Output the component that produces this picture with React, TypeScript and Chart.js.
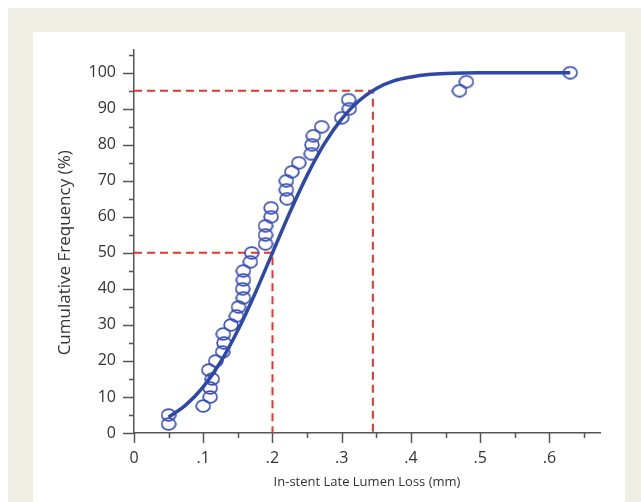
import React, { useEffect, useRef } from 'react';
import { Chart, registerables } from 'chart.js';
Chart.register(...registerables);

// observed lesions: late lumen loss (mm) and cumulative frequency (%)
const lossMm = [
  0.05, 0.05, 0.10, 0.11, 0.11, 0.113, 0.108, 0.118, 0.128, 0.13,
  0.129, 0.14, 0.148, 0.151, 0.158, 0.157, 0.158, 0.158, 0.168, 0.17,
  0.19, 0.19, 0.19, 0.198, 0.198, 0.221, 0.22, 0.22, 0.228, 0.238,
  0.256, 0.257, 0.259, 0.271, 0.30, 0.311, 0.31, 0.47, 0.48, 0.63,
];
const cumPct = [
  2.5, 5, 7.5, 10, 12.5, 15, 17.5, 20, 22.5, 25,
  27.5, 30, 32.5, 35, 37.5, 40, 42.5, 45, 47.5, 50,
  52.5, 55, 57.5, 60, 62.5, 65, 67.5, 70, 72.5, 75,
  77.5, 80, 82.5, 85, 87.5, 90, 92.5, 95, 97.5, 100,
];

// fitted curve
const fitX = [0.05, 0.075, 0.1, 0.125, 0.15, 0.175, 0.2, 0.225, 0.25, 0.275, 0.3, 0.325, 0.35, 0.375, 0.4, 0.425, 0.45, 0.5, 0.55, 0.63];
const fitY = [4.4, 7.8, 12.8, 19.7, 28.5, 38.8, 50, 61.2, 71.5, 80.3, 87.2, 92.2, 95.6, 97.7, 98.8, 99.5, 99.8, 100, 100, 100];

// reference lines: median and 95th percentile
const medianLoss = 0.2;
const medianPct = 50;
const p95Loss = 0.345;
const p95Pct = 95;

const xTitle = 'In-stent Late Lumen Loss (mm)';
const yTitle = 'Cumulative Frequency (%)';

const FONT = '"Open Sans", "Noto Sans", sans-serif';
const TEXT = '#333333';
const AXIS = '#555555';
const RED = '#e8352b';
const CURVE = '#2d48a8';
const RING = '#3b4fb5';

const tickMarks = {
  id: 'tickMarks',
  afterDraw(chart: any) {
    const { ctx, scales } = chart;
    const x = scales.x;
    const y = scales.y;
    ctx.save();
    ctx.strokeStyle = AXIS;
    ctx.lineWidth = 1.5;
    x.ticks.forEach((t: any) => {
      const px = Math.round(x.getPixelForValue(t.value)) + 0.5;
      const major = Math.round(t.value * 100) % 10 === 0;
      ctx.beginPath();
      ctx.moveTo(px, x.top);
      ctx.lineTo(px, x.top + (major ? 10 : 5));
      ctx.stroke();
    });
    y.ticks.forEach((t: any) => {
      const py = Math.round(y.getPixelForValue(t.value)) + 0.5;
      const major = Math.round(t.value) % 10 === 0;
      ctx.beginPath();
      ctx.moveTo(y.right, py);
      ctx.lineTo(y.right - (major ? 11 : 5), py);
      ctx.stroke();
    });
    // y axis title, centred on the middle of the scale
    ctx.fillStyle = TEXT;
    ctx.font = `17px ${FONT}`;
    ctx.textAlign = 'center';
    ctx.textBaseline = 'middle';
    ctx.translate(y.left + 32, y.getPixelForValue(50));
    ctx.rotate(-Math.PI / 2);
    ctx.fillText(yTitle, 0, 0);
    ctx.restore();
  },
};

export default function App() {
  const canvasRef = useRef<HTMLCanvasElement>(null);

  useEffect(() => {
    if (!canvasRef.current) return;

    const ring = document.createElement('canvas');
    ring.width = 16;
    ring.height = 14;
    const rc = ring.getContext('2d')!;
    rc.strokeStyle = RING;
    rc.lineWidth = 1.7;
    rc.beginPath();
    rc.ellipse(8, 7, 6.9, 5.8, 0, 0, Math.PI * 2);
    rc.stroke();

    const chart = new Chart(canvasRef.current, {
      type: 'scatter',
      data: {
        datasets: [
          {
            data: fitX.map((v, i) => ({ x: v, y: fitY[i] })),
            showLine: true,
            borderColor: CURVE,
            borderWidth: 3.5,
            pointRadius: 0,
            cubicInterpolationMode: 'monotone',
          },
          {
            data: lossMm.map((v, i) => ({ x: v, y: cumPct[i] })),
            pointStyle: ring as any,
            pointRadius: 7,
          },
          {
            data: [
              { x: 0, y: medianPct },
              { x: medianLoss, y: medianPct },
              { x: medianLoss, y: 0 },
            ],
            showLine: true,
            borderColor: RED,
            borderWidth: 2,
            borderDash: [8, 5],
            pointRadius: 0,
          },
          {
            data: [
              { x: 0, y: p95Pct },
              { x: p95Loss, y: p95Pct },
              { x: p95Loss, y: 0 },
            ],
            showLine: true,
            borderColor: RED,
            borderWidth: 2,
            borderDash: [8, 5],
            pointRadius: 0,
          },
        ],
      },
      options: {
        animation: false,
        responsive: false,
        events: [],
        layout: { padding: { left: 0, top: 17, right: 25, bottom: 0 } },
        plugins: { legend: { display: false }, tooltip: { enabled: false } },
        scales: {
          x: {
            type: 'linear',
            min: 0,
            max: 0.673,
            grid: { drawOnChartArea: false, drawTicks: true, tickLength: 10, color: 'transparent' },
            border: { display: true, color: AXIS, width: 1.5 },
            ticks: {
              stepSize: 0.05,
              includeBounds: false,
              autoSkip: false,
              maxRotation: 0,
              padding: 6,
              color: TEXT,
              font: { family: FONT, size: 16 },
              callback: (v: any) => {
                const n = Math.round(Number(v) * 100);
                if (n % 10 !== 0) return '';
                return n === 0 ? '0' : '.' + n / 10;
              },
            },
            title: {
              display: true,
              text: xTitle,
              color: TEXT,
              font: { family: FONT, size: 13 },
              padding: { top: 0, bottom: 12 },
            },
            afterFit: (s: any) => {
              s.height = 69;
            },
          },
          y: {
            type: 'linear',
            min: 0,
            max: 106.4,
            grid: { drawOnChartArea: false, drawTicks: true, tickLength: 10, color: 'transparent' },
            border: { display: true, color: AXIS, width: 1.5 },
            ticks: {
              stepSize: 5,
              includeBounds: false,
              autoSkip: false,
              padding: 8,
              color: TEXT,
              font: { family: FONT, size: 16 },
              callback: (v: any) => (Math.round(Number(v)) % 10 === 0 ? String(v) : ''),
            },
            afterFit: (s: any) => {
              s.width = 101;
            },
          },
        },
      },
      plugins: [tickMarks],
    });

    return () => chart.destroy();
  }, []);

  return (
    <div style={{ position: 'fixed', left: 8, top: 8, right: 0, bottom: 0, background: '#efefe6' }}>
      <div style={{ position: 'absolute', left: 25, top: 24, width: 592, bottom: 0, background: '#ffffff' }}>
        <canvas ref={canvasRef} width={592} height={470} style={{ display: 'block' }} />
      </div>
    </div>
  );
}
